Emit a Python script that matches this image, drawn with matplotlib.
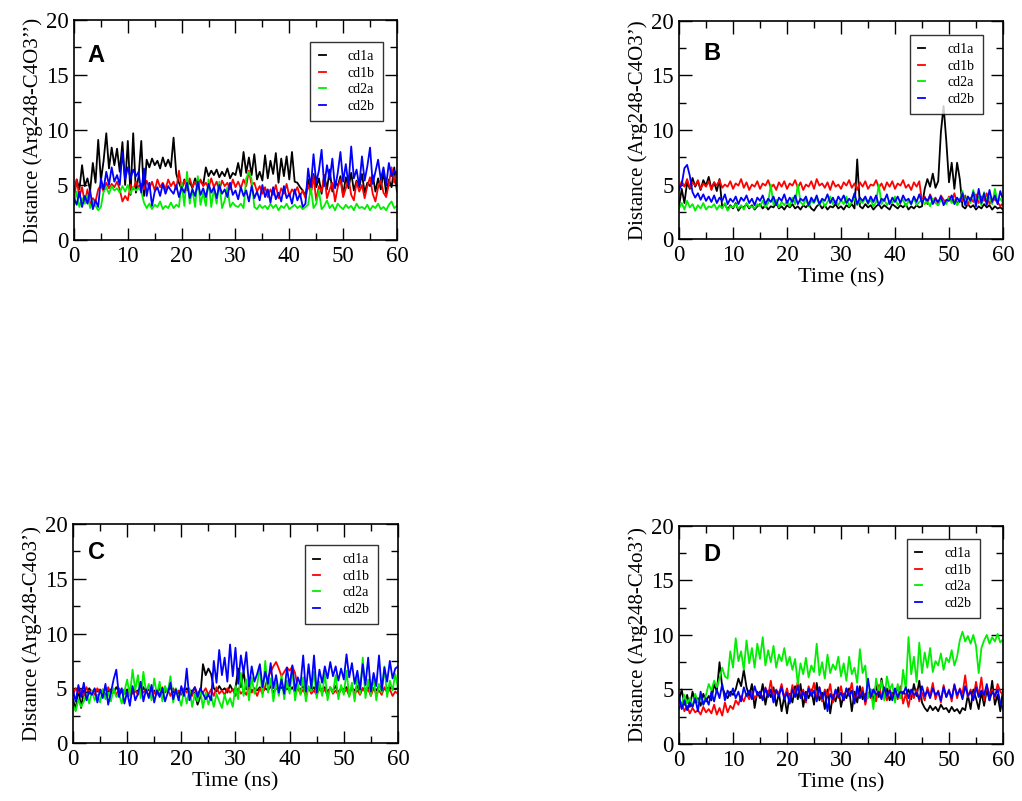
import numpy as np
import matplotlib
matplotlib.use("Agg")
import matplotlib.pyplot as plt
from matplotlib.ticker import MultipleLocator

# time axis (ns), one sample every 0.5 ns
time_ns = np.arange(0, 60.01, 0.5)

series_names = ["cd1a", "cd1b", "cd2a", "cd2b"]
series_colors = ["#000000", "#ff0000", "#00ee00", "#0000ff"]

# ---- panel A : Arg248-C4O3''
a_cd1a = [4.2, 5.5, 4.6, 6.8, 4.9, 5.6, 4.5, 7.0, 5.2, 9.1,
          5.4, 7.2, 9.7, 6.5, 8.4, 6.8, 8.3, 6.2, 8.9, 5.0,
          9.0, 4.1, 9.7, 4.3, 5.8, 9.0, 4.0, 7.3, 6.6, 7.4,
          6.8, 7.2, 6.5, 7.5, 6.7, 7.3, 6.6, 9.3, 6.0, 5.2,
          4.6, 5.5, 4.8, 5.3, 4.7, 5.6, 4.9, 5.4, 5.0, 6.6,
          5.8, 6.3, 5.9, 6.4, 5.7, 6.2, 5.8, 6.5, 5.6, 6.1,
          5.9, 7.0, 5.8, 8.0, 6.1, 7.5, 5.9, 7.8, 5.5, 6.2,
          5.4, 7.7, 5.6, 7.2, 6.0, 7.9, 5.2, 7.4, 5.8, 7.6,
          5.5, 8.0, 5.3, 5.2, 4.8, 4.5, 4.0, 5.5, 4.3, 6.0,
          4.8, 5.6, 4.2, 5.9, 4.6, 6.4, 4.4, 5.3, 4.9, 5.8,
          4.1, 5.7, 4.7, 6.1, 4.5, 5.4, 4.8, 6.0, 4.3, 5.2,
          4.9, 5.9, 4.4, 5.6, 4.6, 6.2, 4.2, 5.5, 4.8, 6.6,
          4.4]
a_cd1b = [3.6, 5.5, 3.9, 4.8, 3.4, 4.6, 3.2, 3.8, 3.5, 4.6,
          5.0, 4.4, 5.2, 4.7, 5.1, 4.8, 5.3, 4.6, 3.5, 4.0,
          3.6, 5.0, 4.6, 5.3, 4.8, 5.1, 4.6, 5.4, 4.7, 5.3,
          4.5, 5.5, 4.8, 5.2, 4.6, 5.5, 4.9, 5.3, 4.6, 6.3,
          4.7, 5.4, 4.5, 5.6, 4.8, 5.3, 4.6, 5.5, 4.9, 5.2,
          4.7, 5.6, 4.8, 5.3, 4.5, 5.4, 4.9, 5.2, 4.6, 5.5,
          4.8, 5.3, 4.7, 5.5, 4.9, 6.3, 5.0, 5.2, 4.4, 4.9,
          4.2, 4.8, 3.9, 4.6, 4.1, 5.0, 3.8, 4.7, 4.2, 5.1,
          4.0, 4.6, 4.3, 4.8, 4.0, 4.5, 3.8, 5.0, 4.2, 5.8,
          3.6, 4.9, 4.4, 5.9, 3.8, 4.6, 5.2, 3.5, 4.8, 5.5,
          3.9, 4.7, 5.6, 4.1, 3.6, 5.3, 4.4, 5.0, 3.8, 4.9,
          5.7, 4.2, 3.5, 4.8, 5.4, 4.3, 3.9, 5.1, 6.6, 5.2,
          6.2]
a_cd2a = [3.2, 4.4, 3.0, 3.8, 3.3, 4.1, 2.9, 3.6, 3.1, 2.7,
          3.0, 4.4, 4.8, 4.2, 4.9, 4.5, 4.7, 4.3, 4.9, 4.4,
          5.0, 4.2, 4.8, 4.5, 4.7, 4.4, 3.4, 2.9, 3.3, 2.8,
          3.2, 3.0, 3.5, 2.8, 3.1, 2.9, 3.4, 2.9, 3.2, 3.0,
          5.2, 3.1, 6.2, 3.3, 4.6, 3.0, 5.8, 3.2, 4.3, 3.1,
          5.5, 3.0, 4.7, 3.3, 5.3, 2.9, 3.6, 4.8, 3.0, 3.4,
          3.1, 3.0, 3.3, 2.9, 5.6, 6.2, 5.5, 3.0, 2.8, 3.2,
          2.9, 3.1, 2.8, 3.3, 2.9, 3.2, 2.7, 3.1, 2.9, 3.3,
          2.8, 3.0, 3.2, 2.9, 3.1, 2.8, 3.0, 3.2, 4.8, 2.9,
          3.3, 4.5, 2.8, 3.1, 3.6, 2.9, 3.2, 2.7, 3.3, 3.0,
          2.8, 3.2, 2.9, 3.1, 2.7, 3.3, 2.9, 3.0, 2.8, 3.2,
          2.7, 3.1, 2.9, 3.3, 2.8, 3.0, 2.7, 3.2, 3.5, 2.9,
          3.1]
a_cd2b = [3.8, 3.2, 4.4, 3.0, 4.0, 3.3, 4.5, 2.8, 3.6, 3.0,
          5.6, 4.6, 6.2, 5.0, 6.6, 5.3, 5.9, 5.0, 8.0, 5.5,
          6.6, 5.6, 6.4, 5.8, 6.2, 4.3, 6.5, 4.0, 5.2, 3.1,
          4.4, 4.8, 4.0, 5.1, 4.2, 4.9, 4.5, 4.2, 5.0, 3.9,
          4.8, 4.3, 5.2, 3.8, 4.6, 4.0, 5.3, 4.1, 4.7, 3.9,
          5.1, 4.3, 4.8, 3.8, 5.0, 4.2, 4.6, 3.9, 5.2, 4.1,
          4.5, 3.7, 4.8, 4.0, 4.5, 3.5, 4.9, 3.8, 4.4, 3.6,
          5.0, 3.9, 4.6, 3.4, 4.8, 3.7, 4.3, 3.5, 4.9, 3.8,
          4.2, 3.3, 4.6, 3.6, 4.2, 3.0, 3.3, 6.5, 4.8, 7.8,
          5.2, 6.3, 8.2, 4.9, 6.8, 5.5, 7.4, 4.7, 6.1, 8.0,
          5.3, 6.9, 5.0, 8.5, 5.6, 6.4, 4.9, 7.6, 5.4, 6.7,
          8.4, 5.1, 6.2, 7.3, 5.5, 6.6, 5.0, 7.0, 5.8, 6.3,
          5.9]

# ---- panel B : Arg248-C4O3'
b_cd1a = [3.0, 4.6, 3.3, 5.2, 4.6, 5.6, 4.8, 5.3, 4.5, 5.4,
          4.9, 5.7, 4.6, 5.2, 4.4, 5.5, 2.9, 3.2, 2.7, 3.1,
          2.8, 3.3, 2.6, 3.0, 2.9, 3.2, 2.8, 3.1, 2.7, 3.0,
          3.2, 2.8, 3.1, 2.7, 3.0, 2.9, 3.3, 2.8, 3.0, 2.7,
          3.1, 2.9, 3.2, 2.8, 3.0, 2.7, 3.1, 2.9, 3.2, 2.8,
          2.6, 3.0, 3.2, 2.8, 3.1, 2.7, 3.0, 2.9, 3.2, 2.8,
          3.0, 2.7, 3.1, 2.9, 3.2, 2.8, 7.3, 3.0, 2.8, 3.2,
          2.9, 3.1, 2.7, 3.0, 3.2, 2.8, 3.1, 2.9, 2.7, 3.2,
          3.0, 2.8, 3.1, 2.9, 3.2, 2.7, 3.0, 2.8, 3.1, 2.9,
          3.0, 4.6, 5.5, 4.8, 6.0, 4.7, 5.3, 9.8, 12.2, 9.0,
          5.2, 7.0, 4.6, 7.0, 5.5, 3.0, 2.8, 3.2, 2.9, 3.1,
          2.7, 3.0, 2.8, 3.2, 2.9, 3.1, 2.7, 3.0, 2.8, 2.9,
          2.7]
b_cd1b = [4.6, 5.3, 4.8, 5.5, 4.7, 5.2, 4.9, 5.4, 4.6, 5.1,
          4.8, 5.3, 4.5, 5.2, 4.9, 5.4, 4.7, 5.0, 4.8, 5.3,
          4.6, 5.1, 4.9, 5.5, 4.7, 5.2, 4.5, 5.0, 4.8, 5.3,
          4.6, 5.1, 4.9, 5.4, 4.7, 5.0, 4.5, 5.2, 4.8, 5.3,
          4.6, 5.1, 4.9, 5.4, 4.7, 5.2, 4.5, 5.0, 4.8, 5.3,
          4.6, 5.5, 4.9, 5.1, 4.7, 5.2, 4.5, 5.3, 4.8, 5.0,
          4.6, 5.2, 4.9, 5.4, 4.7, 5.1, 4.5, 5.2, 4.8, 5.3,
          4.6, 5.0, 4.9, 5.4, 4.7, 5.1, 4.5, 5.2, 4.8, 5.3,
          4.6, 5.1, 4.9, 5.4, 4.7, 5.0, 4.5, 5.2, 4.8, 5.3,
          3.4, 3.9, 3.2, 4.1, 3.5, 3.8, 3.1, 4.0, 3.6, 3.3,
          3.9, 3.4, 4.2, 3.2, 3.7, 3.5, 4.0, 3.1, 3.8, 3.4,
          4.1, 3.3, 3.9, 3.5, 4.2, 3.2, 3.7, 3.6, 3.4, 3.0,
          3.3]
b_cd2a = [2.8, 3.3, 2.7, 3.5, 2.9, 3.2, 2.6, 3.1, 2.8, 3.3,
          2.7, 3.0, 2.9, 3.2, 2.7, 3.1, 2.8, 3.3, 2.6, 3.0,
          2.9, 3.2, 2.8, 3.1, 2.7, 3.3, 2.9, 3.0, 2.8, 3.2,
          3.0, 3.5, 2.9, 3.3, 5.0, 3.1, 3.6, 2.9, 3.4, 3.1,
          3.5, 3.0, 3.8, 3.2, 5.0, 3.4, 3.1, 3.7, 3.0, 3.5,
          3.3, 3.8, 3.1, 3.6, 3.0, 3.4, 3.9, 3.2, 3.5, 3.1,
          3.6, 3.2, 3.9, 3.0, 3.4, 3.7, 3.1, 3.5, 3.3, 3.8,
          3.2, 3.6, 3.0, 3.4, 5.0, 3.2, 3.7, 3.1, 3.5, 3.3,
          3.9, 3.1, 3.4, 3.6, 3.0, 3.5, 3.2, 3.8, 3.1, 3.4,
          3.6, 3.2, 3.5, 3.0, 3.7, 3.3, 3.1, 3.6, 3.4, 3.2,
          3.8, 3.3, 3.6, 3.1, 3.5, 4.4, 3.2, 3.9, 3.3, 4.5,
          3.4, 3.9, 3.1, 4.3, 3.5, 3.8, 3.2, 4.6, 3.4, 3.7,
          3.3]
b_cd2b = [4.5, 5.0, 6.5, 6.8, 5.8, 4.3, 3.8, 4.2, 3.6, 4.1,
          3.5, 3.9, 3.4, 4.0, 3.3, 3.8, 3.5, 4.1, 3.2, 3.7,
          3.4, 3.9, 3.2, 3.8, 3.5, 4.0, 3.3, 3.7, 3.1, 3.8,
          3.5, 4.0, 3.2, 3.7, 3.4, 3.9, 3.1, 3.8, 3.5, 4.1,
          3.3, 3.8, 3.4, 4.0, 3.2, 3.7, 3.5, 3.9, 3.1, 3.8,
          3.4, 4.0, 3.2, 3.7, 3.5, 4.1, 3.3, 3.8, 3.2, 3.9,
          3.5, 4.0, 3.3, 3.7, 3.4, 4.2, 3.2, 3.8, 3.5, 3.9,
          3.3, 3.9, 3.4, 4.0, 3.1, 3.7, 3.5, 4.1, 3.2, 3.8,
          3.4, 3.9, 3.3, 4.0, 3.5, 3.7, 3.2, 3.9, 3.4, 4.1,
          3.3, 3.8, 3.5, 4.0, 3.2, 3.7, 3.4, 3.9, 3.1, 3.6,
          3.5, 4.0, 3.2, 3.8, 3.4, 4.2, 3.1, 3.9, 3.5, 4.3,
          3.0, 4.6, 3.3, 4.2, 3.1, 4.5, 3.4, 4.0, 3.2, 4.4,
          3.6]

# ---- panel C : Arg248-C4o3'
c_cd1a = [4.0, 3.0, 5.0, 3.2, 4.8, 4.5, 5.0, 4.6, 4.9, 4.7,
          4.8, 4.5, 5.0, 4.7, 4.9, 4.6, 5.1, 4.7, 4.8, 4.5,
          4.9, 4.6, 5.0, 4.7, 4.8, 4.5, 5.1, 4.6, 4.9, 4.7,
          4.8, 4.5, 5.0, 4.6, 4.9, 4.7, 5.1, 4.6, 4.8, 4.5,
          4.9, 4.6, 5.0, 4.7, 4.8, 4.5, 3.5, 4.2, 7.2, 6.2,
          6.8, 6.3, 5.0, 4.7, 5.2, 4.8, 5.0, 4.6, 5.3, 4.8,
          5.0, 6.8, 5.1, 6.5, 4.9, 5.2, 4.7, 5.0, 4.8, 5.1,
          4.7, 5.0, 4.8, 5.2, 4.6, 5.0, 4.9, 5.1, 4.7, 5.0,
          4.8, 5.1, 4.6, 5.0, 4.9, 5.2, 4.7, 5.0, 4.8, 5.1,
          4.6, 5.0, 4.9, 5.1, 4.7, 5.0, 4.8, 5.2, 4.6, 5.0,
          4.9, 5.1, 4.7, 5.0, 4.8, 5.2, 4.6, 5.0, 4.9, 5.1,
          4.7, 5.0, 4.8, 5.2, 5.0, 4.9, 5.0, 5.1, 5.0, 4.9,
          5.0]
c_cd1b = [4.4, 5.0, 4.6, 4.9, 4.3, 5.1, 4.5, 4.8, 4.4, 5.0,
          4.6, 4.9, 4.3, 5.1, 4.5, 4.8, 4.4, 5.0, 4.6, 4.9,
          4.3, 5.0, 4.5, 4.8, 4.4, 5.1, 4.6, 4.9, 4.3, 5.0,
          4.5, 4.8, 4.4, 5.1, 4.6, 4.9, 4.3, 5.0, 4.5, 4.8,
          4.4, 5.0, 4.6, 4.9, 4.3, 5.1, 4.5, 4.8, 4.6, 5.0,
          4.4, 4.9, 4.3, 5.1, 4.5, 4.8, 4.4, 5.0, 4.6, 4.9,
          4.3, 5.0, 4.5, 4.8, 4.4, 5.1, 4.6, 4.9, 4.3, 5.0,
          4.5, 5.2, 6.0, 6.5, 7.0, 7.4, 6.8, 6.1, 6.5, 6.9,
          6.6, 7.0, 6.4, 5.0, 4.5, 4.9, 4.3, 5.1, 4.5, 4.8,
          4.4, 5.0, 4.6, 4.9, 4.3, 5.1, 4.5, 4.8, 4.4, 5.0,
          4.6, 4.9, 4.3, 5.1, 4.5, 4.8, 4.4, 5.0, 4.6, 4.9,
          4.3, 5.0, 4.5, 4.8, 4.4, 5.1, 4.6, 4.9, 4.3, 4.7,
          4.5]
c_cd2a = [3.5, 2.9, 4.0, 3.3, 3.8, 4.5, 3.6, 4.8, 3.9, 4.4,
          3.7, 4.9, 4.0, 4.6, 3.8, 5.0, 4.2, 4.5, 3.6, 4.7,
          5.8, 4.3, 6.7, 4.8, 6.2, 4.1, 6.5, 4.6, 5.4, 3.9,
          5.9, 4.4, 5.6, 3.8, 5.2, 4.6, 6.1, 3.7, 5.0, 4.2,
          3.4, 4.8, 3.6, 5.0, 3.3, 4.5, 3.8, 4.9, 3.2, 4.6,
          3.5, 4.3, 3.3, 4.5, 3.8, 3.2, 4.4, 3.5, 4.1, 3.3,
          5.2, 4.0, 6.4, 4.3, 5.8, 3.9, 6.0, 4.5, 5.3, 7.0,
          4.2, 7.5, 4.6, 5.9, 3.8, 5.5, 4.3, 6.2, 4.0, 5.7,
          4.5, 6.8, 3.9, 5.4, 4.4, 6.0, 3.8, 5.2, 4.7, 6.5,
          4.1, 5.6, 4.3, 6.4, 3.9, 5.1, 4.6, 6.2, 4.0, 5.3,
          4.4, 6.6, 4.2, 5.5, 3.8, 6.1, 4.5, 7.8, 4.1, 5.8,
          4.3, 6.0, 3.9, 5.4, 4.6, 7.0, 4.2, 5.7, 4.8, 6.3,
          5.0]
c_cd2b = [4.8, 3.8, 5.3, 4.2, 5.5, 3.9, 4.7, 4.4, 5.0, 3.7,
          4.9, 4.1, 5.4, 3.5, 4.6, 5.8, 6.7, 4.2, 5.0, 3.6,
          4.7, 3.4, 5.2, 3.9, 4.5, 5.6, 3.8, 4.9, 4.1, 5.3,
          3.7, 4.8, 4.2, 5.0, 3.8, 4.6, 5.5, 4.0, 4.9, 3.9,
          5.2, 4.3, 6.8, 3.9, 4.7, 5.1, 4.2, 5.0, 4.5, 4.0,
          4.4, 3.9, 7.5, 5.5, 8.5, 6.2, 7.8, 5.6, 9.0, 6.1,
          8.7, 5.4, 8.0, 6.4, 8.3, 5.2, 7.0, 5.6, 6.3, 7.2,
          5.1, 6.5, 5.4, 7.3, 5.0, 6.2, 4.6, 5.8, 4.5, 6.9,
          5.2, 7.1, 4.8, 6.0, 5.3, 8.0, 4.7, 7.2, 5.0, 8.0,
          4.6, 6.7, 5.5, 7.0, 5.9, 7.4, 6.1, 7.0, 5.7, 6.8,
          5.8, 8.1, 6.0, 7.3, 5.4, 6.6, 4.9, 7.2, 5.3, 7.8,
          4.7, 6.4, 5.2, 8.0, 4.8, 6.9, 5.6, 7.5, 5.9, 6.8,
          7.0]

# ---- panel D : Arg248-C4o3'
d_cd1a = [4.0, 5.0, 3.6, 4.5, 3.4, 4.8, 3.8, 4.2, 3.5, 4.6,
          3.9, 4.4, 4.0, 5.5, 4.8, 7.5, 5.2, 4.6, 4.2, 4.8,
          4.5, 5.0, 6.0, 5.3, 6.8, 5.2, 4.4, 5.5, 3.3, 4.8,
          4.2, 5.5, 3.6, 4.9, 4.3, 5.2, 3.5, 4.7, 3.0, 4.4,
          2.8, 4.6, 3.8, 5.3, 4.1, 5.5, 3.4, 4.8, 4.2, 5.0,
          3.6, 5.6, 4.0, 4.7, 3.2, 5.0, 2.8, 4.5, 3.9, 5.2,
          3.4, 4.6, 4.2, 5.1, 3.0, 4.8, 3.8, 5.3, 4.1, 4.6,
          4.4, 5.0, 3.9, 5.4, 4.3, 6.0, 4.5, 5.1, 4.0, 4.7,
          4.6, 5.2, 4.2, 4.8, 4.5, 5.0, 4.1, 5.5, 4.4, 5.8,
          3.8, 3.3, 3.0, 3.5, 3.1, 3.4, 3.0, 3.6, 3.2, 3.3,
          2.9, 3.4, 3.0, 3.2, 2.8, 3.3, 3.1, 4.5, 3.2, 5.0,
          4.2, 3.2, 4.8, 3.5, 5.0, 4.0, 5.8, 3.6, 4.5, 3.0,
          5.0]
d_cd1b = [3.2, 3.8, 3.0, 3.5, 2.8, 3.3, 2.9, 3.1, 2.7, 3.4,
          2.9, 3.2, 2.8, 3.6, 2.7, 3.3, 2.6, 3.8, 2.9, 3.5,
          3.2, 4.0, 3.6, 4.4, 3.9, 4.6, 4.1, 4.8, 4.2, 4.5,
          4.8, 4.1, 5.2, 4.4, 5.8, 4.3, 5.0, 4.6, 5.5, 4.2,
          5.1, 4.0, 5.4, 4.5, 5.7, 4.3, 5.0, 3.8, 5.3, 4.6,
          5.6, 4.1, 5.2, 3.9, 5.0, 4.4, 5.5, 3.8, 4.9, 4.2,
          5.3, 4.0, 5.1, 4.5, 5.6, 3.9, 4.8, 4.3, 5.2, 3.6,
          4.7, 4.2, 5.0, 3.9, 5.4, 4.4, 4.8, 4.0, 5.1, 4.3,
          4.9, 4.1, 5.3, 3.7, 4.6, 3.4, 4.8, 4.2, 5.0, 3.9,
          4.7, 4.0, 5.2, 4.4, 5.6, 4.1, 4.9, 3.8, 5.4, 4.3,
          5.0, 3.9, 5.5, 4.2, 5.1, 4.6, 6.3, 4.3, 5.0, 4.1,
          5.7, 4.4, 6.1, 4.0, 5.3, 4.6, 5.0, 4.2, 5.5, 4.8,
          4.5]
d_cd2a = [4.0, 3.5, 4.5, 3.7, 4.2, 3.4, 4.6, 3.8, 4.3, 3.6,
          4.5, 5.5, 4.9, 5.8, 5.2, 6.0, 7.0, 6.2, 6.0, 8.5,
          7.0, 9.7, 7.6, 8.5, 6.8, 9.5, 7.4, 8.8, 7.0, 9.2,
          7.8, 9.8, 7.2, 8.6, 7.5, 9.0, 7.0, 8.2, 7.6, 8.8,
          7.2, 8.0, 6.8, 7.8, 5.5, 7.4, 6.4, 7.9, 6.1, 7.2,
          6.6, 9.2, 6.3, 7.5, 6.0, 8.2, 6.5, 7.3, 6.8, 8.0,
          6.2, 7.4, 5.8, 8.0, 6.4, 7.0, 5.6, 8.7, 6.5, 7.2,
          4.2, 5.0, 3.2, 6.0, 4.8, 5.8, 4.0, 6.2, 5.0, 5.5,
          3.8, 5.5, 4.2, 6.8, 5.0, 9.8, 6.4, 8.0, 5.7, 9.3,
          6.5, 8.4, 7.0, 8.8, 6.6, 7.6, 7.2, 8.3, 6.8, 7.9,
          7.5, 8.6, 7.2, 8.0, 9.5, 10.3, 9.4, 9.9, 9.2, 10.0,
          9.0, 6.5, 8.8, 9.5, 10.0, 9.2, 9.8, 9.4, 10.1, 9.3,
          9.6]
d_cd2b = [4.5, 3.2, 4.0, 3.1, 3.8, 3.4, 4.2, 3.0, 4.8, 3.6,
          4.2, 3.6, 4.8, 3.9, 5.0, 4.2, 5.5, 4.0, 4.9, 4.4,
          5.1, 4.2, 4.8, 3.9, 5.2, 4.4, 4.9, 4.1, 5.3, 4.5,
          4.8, 4.0, 5.1, 4.3, 5.0, 3.8, 4.9, 4.4, 5.2, 4.1,
          4.7, 3.7, 5.0, 4.3, 5.3, 4.2, 4.8, 4.0, 5.1, 4.4,
          4.9, 3.9, 5.2, 4.2, 4.8, 3.0, 4.6, 4.1, 5.0, 4.3,
          4.7, 4.0, 5.1, 4.4, 4.9, 3.7, 5.3, 4.2, 4.8, 3.9,
          6.0, 4.3, 5.0, 4.5, 4.8, 4.1, 5.2, 4.4, 4.9, 4.0,
          5.1, 4.3, 4.8, 4.6, 5.2, 4.2, 5.0, 4.5, 4.7, 4.1,
          5.3, 4.4, 4.9, 4.2, 5.1, 4.5, 4.8, 4.0, 5.2, 4.3,
          4.9, 4.2, 5.4, 4.5, 5.0, 4.1, 5.3, 4.4, 4.8, 4.0,
          5.2, 4.3, 4.9, 4.5, 5.5, 4.0, 4.8, 4.4, 5.0, 3.8,
          3.2]

panel_letters = ["A", "B", "C", "D"]
ylabels = ["Distance (Arg248-C4O3\u2019\u2019)", "Distance (Arg248-C4O3\u2019)",
           "Distance (Arg248-C4o3\u2019)", "Distance (Arg248-C4o3\u2019)"]
panel_data = [
    [a_cd1a, a_cd1b, a_cd2a, a_cd2b],
    [b_cd1a, b_cd1b, b_cd2a, b_cd2b],
    [c_cd1a, c_cd1b, c_cd2a, c_cd2b],
    [d_cd1a, d_cd1b, d_cd2a, d_cd2b],
]

# axes boxes (left, bottom, width, height) in figure fractions
boxes = [
    (0.0724, 0.7004, 0.3160, 0.2747),
    (0.6644, 0.7016, 0.3170, 0.2722),
    (0.0714, 0.0724, 0.3180, 0.2734),
    (0.6644, 0.0712, 0.3170, 0.2722),
]
legend_anchor = [(0.957, 0.90), (0.938, 0.936), (0.938, 0.904), (0.929, 0.94)]
letter_pos = [(0.04, 0.84), (0.074, 0.853), (0.046, 0.868), (0.074, 0.87)]
show_xlabel = [False, True, True, True]

plt.rcParams["font.family"] = "Liberation Serif"

fig = plt.figure(figsize=(10.22, 8.01), dpi=100)

for i in range(4):
    ax = fig.add_axes(boxes[i])
    for name, color, vals in zip(series_names, series_colors, panel_data[i]):
        ax.plot(time_ns, vals, color=color, lw=1.3, label=name)

    ax.set_xlim(0, 60)
    ax.set_ylim(0, 20)
    ax.xaxis.set_major_locator(MultipleLocator(10))
    ax.xaxis.set_minor_locator(MultipleLocator(5))
    ax.yaxis.set_major_locator(MultipleLocator(5))
    ax.yaxis.set_minor_locator(MultipleLocator(2.5))
    ax.tick_params(which="both", direction="in", top=True, right=True,
                   width=1.0, labelsize=16.5, pad=4)
    ax.tick_params(which="major", length=9)
    ax.tick_params(which="minor", length=5)
    for sp in ax.spines.values():
        sp.set_linewidth(1.2)

    ax.set_ylabel(ylabels[i], fontsize=15, labelpad=2)
    if show_xlabel[i]:
        ax.set_xlabel("Time (ns)", fontsize=16, labelpad=2)

    ax.text(letter_pos[i][0], letter_pos[i][1], panel_letters[i],
            transform=ax.transAxes, fontsize=17, fontweight="bold",
            family="Liberation Sans", va="center", ha="left")

    leg = ax.legend(loc="upper right", bbox_to_anchor=legend_anchor[i],
                    fontsize=10, frameon=True, fancybox=False,
                    edgecolor="black", handlelength=0.5, handletextpad=1.6,
                    borderpad=0.6, labelspacing=0.25, borderaxespad=0)
    leg.get_frame().set_linewidth(1.0)

fig.savefig("out.png", dpi=100)
